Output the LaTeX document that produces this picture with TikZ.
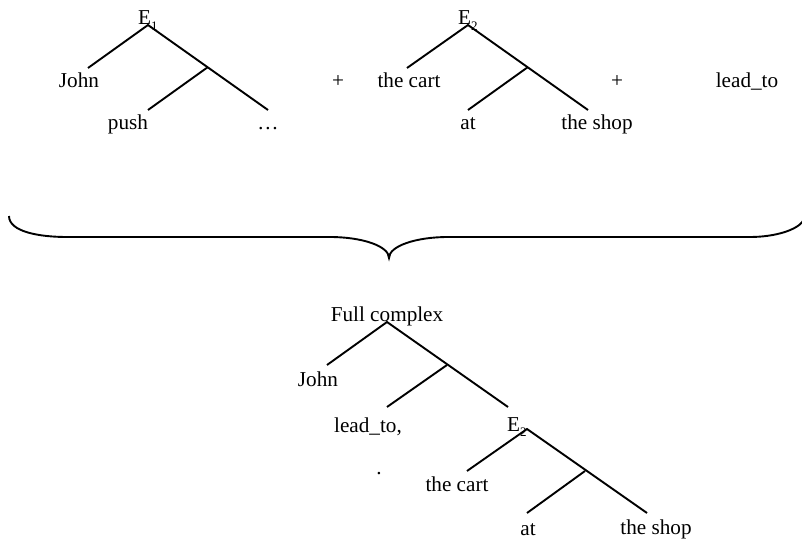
\documentclass[tikz,border=0pt]{standalone}
\usepackage{fontspec}
\setmainfont{Liberation Serif}
\begin{document}
\begin{tikzpicture}[x=1pt,y=-1pt,
  lbl/.style={inner sep=0pt,anchor=base,font=\fontsize{21.2}{25}\selectfont},
  lblw/.style={inner sep=0pt,anchor=base west,font=\fontsize{21.2}{25}\selectfont},
  branch/.style={line width=1.9pt,line cap=butt},
  bracepath/.style={line width=1.9pt}]
\newcommand{\subn}[1]{\raisebox{-0.28em}{\fontsize{13}{13}\selectfont #1}}
\useasboundingbox (0,0) rectangle (802,540);
% ---- tree E1 ----
\node[lblw] (e1) at (138,25) {E\subn{1}};
\node[lbl] (john1) at (79,88) {John};
\node[lbl] (push) at (128,130) {push};
\node[lbl] (dots) at (268,130) {…};
\coordinate (a1) at (148,25);
\coordinate (a1l) at (88,68);
\coordinate (a1m) at (208,67);
\coordinate (a1r) at (268,110);
\coordinate (a1ml) at (148,110);
\draw[branch] (a1l) -- (a1) -- (a1r);
\draw[branch] (a1m) -- (a1ml);
% ---- plus ----
\node[lbl] (plus1) at (338,88) {+};
\node[lbl] (plus2) at (617,88) {+};
\node[lbl] (leadto) at (747,88) {lead\_to};
% ---- tree E2 ----
\node[lblw] (e2) at (458,25) {E\subn{2}};
\node[lbl] (cart1) at (409,88) {the cart};
\node[lbl] (at1) at (468,130) {at};
\node[lbl] (shop1) at (597,130) {the shop};
\coordinate (a2) at (468,25);
\coordinate (a2l) at (407,68);
\coordinate (a2m) at (528,67);
\coordinate (a2r) at (588,110);
\coordinate (a2ml) at (468,110);
\draw[branch] (a2l) -- (a2) -- (a2r);
\draw[branch] (a2m) -- (a2ml);
% ---- brace ----
\coordinate (bl) at (9,216);
\coordinate (bl1) at (67,237);
\coordinate (bl2) at (330,237);
\coordinate (btip) at (389,258);
\coordinate (br2) at (448,237);
\coordinate (br1) at (750,237);
\coordinate (br) at (803,221);
\draw[bracepath] (bl) .. controls (9,232) and (40,237) .. (bl1) -- (bl2)
  .. controls (362,237) and (389,246) .. (btip)
  .. controls (389,246) and (416,237) .. (br2) -- (br1)
  .. controls (775,237) and (797,230) .. (br);
% ---- full complex ----
\node[lbl] (full) at (387,321) {Full complex};
\node[lbl] (john2) at (318,386) {John};
\node[lbl] (leadto2) at (368,432) {lead\_to,};
\node[lblw] (e2b) at (507,431) {E\subn{2}};
\node[lbl] (dot) at (379,474) {.};
\node[lbl] (cart2) at (457,491) {the cart};
\node[lbl] (at2) at (528,535) {at};
\node[lbl] (shop2) at (656,534) {the shop};
\coordinate (f) at (387,322);
\coordinate (fl) at (327,365);
\coordinate (fm) at (447,365);
\coordinate (fr) at (508,407);
\coordinate (fml) at (387,407);
\draw[branch] (fl) -- (f) -- (fr);
\draw[branch] (fm) -- (fml);
\coordinate (g) at (527,429);
\coordinate (gl) at (467,471);
\coordinate (gm) at (585,471);
\coordinate (gr) at (647,513);
\coordinate (gml) at (527,513);
\draw[branch] (gl) -- (g) -- (gr);
\draw[branch] (gm) -- (gml);
\end{tikzpicture}
\end{document}
